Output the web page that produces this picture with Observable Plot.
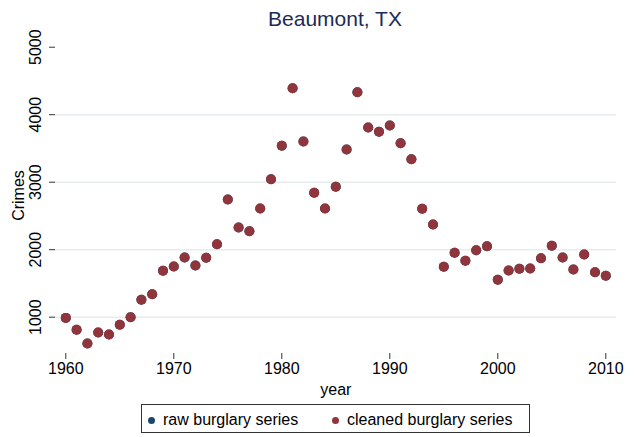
<!DOCTYPE html>
<html>
<head>
<meta charset="utf-8">
<script src="https://cdn.jsdelivr.net/npm/d3@7"></script>
<script src="https://cdn.jsdelivr.net/npm/@observablehq/plot@0.6"></script>
<style>
  html, body { margin: 0; padding: 0; background: #fff; }
  body { position: relative; width: 636px; height: 437px; overflow: hidden; font-family: "Liberation Sans", Arial, Helvetica, sans-serif; }
  #title { position: absolute; top: 0; left: 54px; width: 562px; height: 38px; line-height: 38px; text-align: center; font-size: 21px; color: #1c2b57; z-index: 1; }
  #chart svg { display: block; }
  #legend { position: relative; height: 37px; }
  #legend .box { position: absolute; left: 141px; top: 4px; width: 389px; height: 29px; box-sizing: border-box; border: 1px solid #333; }
  #legend .dot { position: absolute; width: 7px; height: 7px; border-radius: 50%; top: 11.5px; }
  #legend .lab { position: absolute; top: 6.5px; font-size: 16px; line-height: 16px; color: #000; white-space: nowrap; }
</style>
</head>
<body>
<div id="title"></div>
<div id="chart"></div>
<div id="legend"></div>
<script>
const titleText = "Beaumont, TX";
const yLabel = "Crimes";
const xLabel = "year";
const seriesNames = ["raw burglary series", "cleaned burglary series"];
const seriesColors = ["#1a476f", "#90353b"];

const years = [1960, 1961, 1962, 1963, 1964, 1965, 1966, 1967, 1968, 1969,
               1970, 1971, 1972, 1973, 1974, 1975, 1976, 1977, 1978, 1979,
               1980, 1981, 1982, 1983, 1984, 1985, 1986, 1987, 1988, 1989,
               1990, 1991, 1992, 1993, 1994, 1995, 1996, 1997, 1998, 1999,
               2000, 2001, 2002, 2003, 2004, 2005, 2006, 2007, 2008, 2009, 2010];

const cleaned = [990, 813, 610, 773, 744, 887, 1000, 1258, 1341, 1687,
                 1751, 1884, 1766, 1880, 2081, 2744, 2329, 2274, 2610, 3044,
                 3539, 4393, 3603, 2843, 2610, 2932, 3484, 4333, 3810, 3747,
                 3840, 3578, 3341, 2606, 2373, 1747, 1954, 1836, 1993, 2052,
                 1554, 1692, 1717, 1721, 1874, 2058, 1884, 1707, 1929, 1667, 1613];

// raw series coincides with the cleaned one (hidden underneath)
const raw = [990, 813, 610, 773, 744, 887, 1000, 1258, 1341, 1687,
             1751, 1884, 1766, 1880, 2081, 2744, 2329, 2274, 2610, 3044,
             3539, 4393, 3603, 2843, 2610, 2932, 3484, 4333, 3810, 3747,
             3840, 3578, 3341, 2606, 2373, 1747, 1954, 1836, 1993, 2052,
             1554, 1692, 1717, 1721, 1874, 2058, 1884, 1707, 1929, 1667, 1613];

const xTicks = [1960, 1970, 1980, 1990, 2000, 2010];
const yTicks = [1000, 2000, 3000, 4000, 5000];
const yGrid = [1000, 2000, 3000, 4000];
const plotRegionX = [1959, 2011];

const data = years.map((year, i) => ({year, raw: raw[i], cleaned: cleaned[i]}));

document.getElementById("title").textContent = titleText;

const H = 400;
const chart = Plot.plot({
  width: 636,
  height: H,
  marginLeft: 65.3,
  marginRight: 30.7,
  marginTop: 46.7,
  marginBottom: 83.3,
  style: {fontFamily: '"Liberation Sans", Arial, Helvetica, sans-serif', color: "#000", background: "transparent"},
  x: {domain: [1960, 2010]},
  y: {domain: [1000, 5000]},
  marks: [
    Plot.ruleY(yGrid, {y: d => d, x1: plotRegionX[0], x2: plotRegionX[1], stroke: "#e4eced", strokeWidth: 1.5}),
    Plot.axisY(yTicks, {tickSize: 6, dx: -10.3, tickFormat: () => "", stroke: "#333", label: null}),
    Plot.text(yTicks, {y: d => d, text: d => String(d), frameAnchor: "left", dx: -24.5, rotate: -90,
                       textAnchor: "middle", lineAnchor: "bottom", fontSize: 16, fill: "#000"}),
    Plot.axisX(xTicks, {tickSize: 6, dy: 36.3, tickPadding: 3, tickFormat: d => String(d),
                        fontSize: 16, stroke: "#333", fill: "#000", label: null}),
    Plot.text([yLabel], {frameAnchor: "left", dx: -41.8, dy: 13.3, rotate: -90, textAnchor: "middle",
                         lineAnchor: "bottom", fontSize: 16, fill: "#000"}),
    Plot.text([xLabel], {frameAnchor: "bottom", dy: 77.3, lineAnchor: "bottom", fontSize: 16, fill: "#000"}),
    Plot.dot(data, {x: "year", y: "raw", r: 5, fill: seriesColors[0]}),
    Plot.dot(data, {x: "year", y: "cleaned", r: 5, fill: seriesColors[1]})
  ]
});
document.getElementById("chart").appendChild(chart);

// legend
const legend = document.getElementById("legend");
const box = document.createElement("div");
box.className = "box";
const pos = [{dot: 6.2, lab: 21}, {dot: 189.5, lab: 205}];
seriesNames.forEach((name, i) => {
  const dot = document.createElement("span");
  dot.className = "dot";
  dot.style.left = pos[i].dot + "px";
  dot.style.background = seriesColors[i];
  const lab = document.createElement("span");
  lab.className = "lab";
  lab.style.left = pos[i].lab + "px";
  lab.textContent = name;
  box.appendChild(dot);
  box.appendChild(lab);
});
legend.appendChild(box);
</script>
</body>
</html>
